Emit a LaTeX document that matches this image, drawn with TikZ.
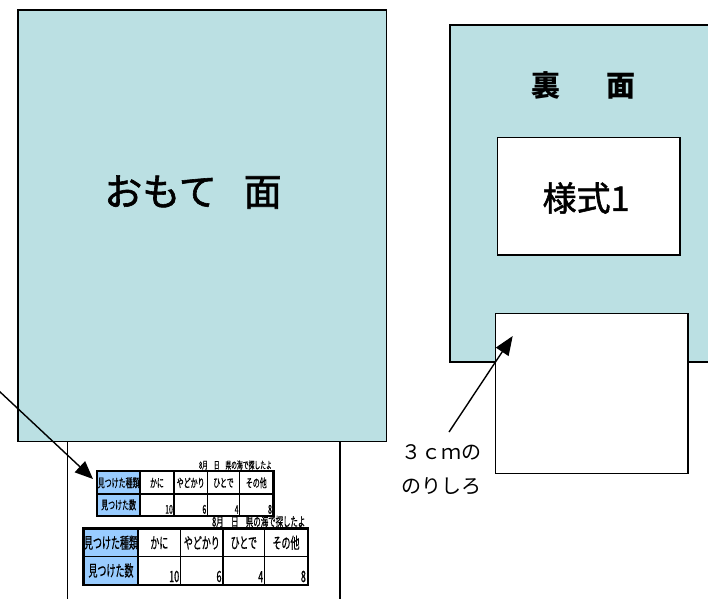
\documentclass[tikz,border=0pt]{standalone}
\usepackage{fontspec}
\setmainfont{Noto Sans CJK JP}
\newfontfamily\jpm[FakeBold=1.6]{Noto Sans CJK JP}
\newfontfamily\jpc[FakeStretch=0.58,FakeBold=0.6]{Noto Sans CJK JP}
\usetikzlibrary{arrows.meta}
\definecolor{sheet}{RGB}{187,224,227}
\definecolor{cellblue}{RGB}{153,204,255}
\newcommand\tblS{\jpc\fontsize{12}{12}\selectfont}
\newcommand\tblL{\jpc\fontsize{15.5}{15.5}\selectfont}
\newcommand\ttlS{\jpc\fontsize{10}{10}\selectfont}
\newcommand\ttlL{\jpc\fontsize{12.8}{12.8}\selectfont}
\begin{document}
\begin{tikzpicture}[x=1pt,y=-1pt,
  panel/.style={draw=black, line width=1.5pt, fill=sheet, inner sep=0pt, anchor=north west},
  paper/.style={draw=black, line width=1.4pt, fill=white, inner sep=0pt, anchor=north west},
  bigarrow/.style={line width=1.4pt, -{Triangle[length=19pt,width=15pt]}},
  cellS/.style={draw=black, line width=1.3pt, inner sep=0pt, minimum height=22.3pt, anchor=north west, font=\tblS},
  cellL/.style={draw=black, line width=1.4pt, inner sep=0pt, minimum height=27.5pt, anchor=north west, font=\tblL},
  numS/.style={inner sep=0pt, anchor=south east, font=\tblS},
  numL/.style={inner sep=0pt, anchor=south east, font=\tblL},
  outer/.style={draw=black, line width=2.2pt}
]
\useasboundingbox (0,0) rectangle (708,598);

% front sheet (paper under the front panel)
\node[paper, minimum width=272.3pt, minimum height=320pt] (frontpaper) at (67,380) {};
% front panel
\node[panel, minimum width=368.5pt, minimum height=431.7pt] (front) at (17,9) {};
\node[font=\jpm\fontsize{38}{38}\selectfont, inner sep=0pt] (omote) at (193,192) {おもて\hspace{27pt}面};

% back panel
\node[panel, minimum width=275pt, minimum height=337pt] (back) at (449,24) {};
\node[font=\bfseries\fontsize{29}{29}\selectfont] (ura) at (583,85) {裏\hspace{46pt}面};
\node[paper, minimum width=182.6pt, minimum height=117.6pt] (yoshiki) at (496.7,136.7) {};
\node[font=\jpm\fontsize{34}{34}\selectfont] (yoshikitxt) at (586,198) {様式1};
% glue flap
\node[paper, minimum width=192.3pt, minimum height=160pt] (flap) at (495,312.7) {};

% label 3cm
\node[font=\fontsize{20}{34}\selectfont, align=center, inner sep=0pt] (glue) at (441,470) {３ｃｍの\\のりしろ};
\coordinate (gluetail) at (449,432);
\coordinate (gluetip) at (512.7,336);
\draw[bigarrow] (gluetail) -- (gluetip);

% small table
\node[inner sep=0pt, anchor=east, font=\ttlS] (sttl) at (272,465) {8月　日　県の海で探したよ};
\node[cellS, fill=cellblue, minimum width=42.6pt] (s11) at (96.7,471) {見つけた種類};
\node[cellS, minimum width=34pt] (s12) at (139.3,471) {かに};
\node[cellS, minimum width=33.4pt] (s13) at (173.3,471) {やどかり};
\node[cellS, minimum width=32.3pt] (s14) at (206.7,471) {ひとで};
\node[cellS, minimum width=33.3pt] (s15) at (239,471) {その他};
\node[cellS, fill=cellblue, minimum width=42.6pt, minimum height=21.7pt] (s21) at (96.7,493.3) {見つけた数};
\node[cellS, minimum width=34pt, minimum height=21.7pt] (s22) at (139.3,493.3) {};
\node[cellS, minimum width=33.4pt, minimum height=21.7pt] (s23) at (173.3,493.3) {};
\node[cellS, minimum width=32.3pt, minimum height=21.7pt] (s24) at (206.7,493.3) {};
\node[cellS, minimum width=33.3pt, minimum height=21.7pt] (s25) at (239,493.3) {};
\node[numS] (n22) at ([xshift=-1.5pt,yshift=2.3pt]s22.south east) {10};
\node[numS] (n23) at ([xshift=-1.5pt,yshift=2.3pt]s23.south east) {6};
\node[numS] (n24) at ([xshift=-1.5pt,yshift=2.3pt]s24.south east) {4};
\node[numS] (n25) at ([xshift=-1.5pt,yshift=2.3pt]s25.south east) {8};
\draw[outer] (s11.north west) rectangle (s25.south east);

% large table
\node[inner sep=0pt, anchor=east, font=\ttlL] (lttl) at (305.5,521.5) {8月　日　県の海で探したよ};
\node[cellL, fill=cellblue, minimum width=54pt] (l11) at (83.3,528.3) {見つけた種類};
\node[cellL, minimum width=42.7pt] (l12) at (137.3,528.3) {かに};
\node[cellL, minimum width=42.3pt] (l13) at (180,528.3) {やどかり};
\node[cellL, minimum width=41.7pt] (l14) at (222.3,528.3) {ひとで};
\node[cellL, minimum width=42.7pt] (l15) at (264,528.3) {その他};
\node[cellL, fill=cellblue, minimum width=54pt] (l21) at (83.3,556) {見つけた数};
\node[cellL, minimum width=42.7pt] (l22) at (137.3,556) {};
\node[cellL, minimum width=42.3pt] (l23) at (180,556) {};
\node[cellL, minimum width=41.7pt] (l24) at (222.3,556) {};
\node[cellL, minimum width=42.7pt] (l25) at (264,556) {};
\node[numL] (m22) at ([xshift=-2pt,yshift=2.5pt]l22.south east) {10};
\node[numL] (m23) at ([xshift=-2pt,yshift=2.5pt]l23.south east) {6};
\node[numL] (m24) at ([xshift=-2pt,yshift=2.5pt]l24.south east) {4};
\node[numL] (m25) at ([xshift=-2pt,yshift=2.5pt]l25.south east) {8};
\draw[outer] (l11.north west) rectangle (l25.south east);

% left arrow pointing at small table
\coordinate (lefttail) at (-2,390);
\coordinate (lefttip) at (93,479);
\draw[line width=1.4pt, -{Triangle[length=18pt,width=15pt]}] (lefttail) -- (lefttip);
\end{tikzpicture}
\end{document}
